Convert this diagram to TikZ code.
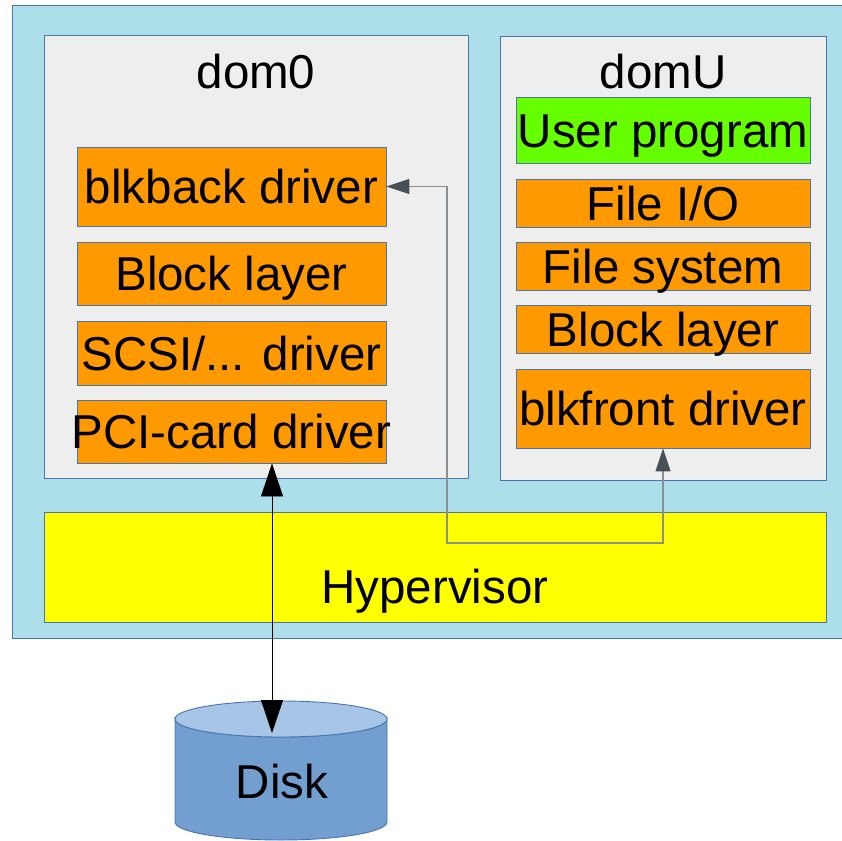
\documentclass[tikz,border=0pt]{standalone}
\usepackage{fontspec}
\setmainfont{Liberation Sans}
\usetikzlibrary{arrows.meta}
\definecolor{hostblue}{HTML}{ADDFEB}
\definecolor{edgeblue}{HTML}{4A76B0}
\definecolor{domgray}{HTML}{EEEEEE}
\definecolor{layerorange}{HTML}{FF9900}
\definecolor{appgreen}{HTML}{66FF00}
\definecolor{hvyellow}{HTML}{FFFF00}
\definecolor{diskbody}{HTML}{729FCF}
\definecolor{disktopc}{HTML}{A7C5E6}
\definecolor{linkgray}{HTML}{8A8F94}
\definecolor{tipgray}{HTML}{474F57}
\tikzset{
  x=1pt, y=-1pt,
  bigtext/.style={font=\fontsize{47.5}{56}\selectfont, text height=34pt, text depth=0pt},
  frame/.style={draw=edgeblue, line width=0.9pt, inner sep=0pt, anchor=north west},
  layer/.style={frame, fill=#1, bigtext, anchor=center},
  layer/.default=layerorange,
  link/.style={draw=linkgray, line width=1.2pt,
    {Triangle[length=23pt,width=15pt,color=tipgray]}-{Triangle[length=23pt,width=15pt,color=tipgray]}},
  iolink/.style={draw=black, line width=0.8pt,
    {Triangle[length=33pt,width=22pt]}-{Triangle[length=33pt,width=22pt]}}
}
\begin{document}
\begin{tikzpicture}
\clip (0,0) rectangle (842,840);
\fill[white] (0,0) rectangle (842,840);

% host machine
\node[frame, fill=hostblue, minimum width=838pt, minimum height=633pt] (host) at (12,5) {};

% domains
\node[frame, fill=domgray, minimum width=424pt, minimum height=443pt] (dom0) at (44,35) {};
\node[bigtext] (dom0label) at (256,72) {dom0};
\node[frame, fill=domgray, minimum width=326pt, minimum height=444pt] (domU) at (500,36) {};
\node[bigtext] (domUlabel) at (663,72) {domU};

% dom0 stack
\node[layer, minimum width=309pt, minimum height=79pt] (blkback) at (231.5,186.5) {blkback driver};
\node[layer, minimum width=309pt, minimum height=63pt] (block0) at (231.5,273.5) {Block layer};
\node[layer, minimum width=309pt, minimum height=64pt] (scsi) at (231.5,353) {SCSI/... driver};
\node[layer, minimum width=309pt, minimum height=63pt] (pci) at (231.5,431.5) {\makebox[309pt]{PCI-card driver}};

% domU stack
\node[layer=appgreen, minimum width=294pt, minimum height=66pt] (user) at (663,130) {User program};
\node[layer, minimum width=294pt, minimum height=48pt] (fileio) at (663,203) {File I/O};
\node[layer, minimum width=294pt, minimum height=48pt] (filesys) at (663,266) {File system};
\node[layer, minimum width=294pt, minimum height=48pt] (blockU) at (663,329) {Block layer};
\node[layer, minimum width=294pt, minimum height=79pt] (blkfront) at (663,408.5) {blkfront driver};

% hypervisor
\node[frame, fill=hvyellow, minimum width=782pt, minimum height=110pt] (hv) at (44,512) {};
\node[bigtext] (hvlabel) at (435,586.5) {Hypervisor};

% disk
\fill[diskbody, draw=edgeblue, line width=0.9pt]
  (175,719) -- (175,822) arc[start angle=180, end angle=0, x radius=106, y radius=18]
  -- (387,719) arc[start angle=0, end angle=180, x radius=106, y radius=18] -- cycle;
\fill[disktopc, draw=edgeblue, line width=0.9pt] (281,719) ellipse[x radius=106, y radius=18];
\node[bigtext] (disk) at (282,781) {Disk};
\coordinate (disktop) at (272,733);

% connectors
\coordinate (bend) at (447,543);
\draw[link] (blkback.east) -| (bend) -| (blkfront.south);
\draw[iolink] (pci.south -| disktop) -- (disktop);
\end{tikzpicture}
\end{document}
